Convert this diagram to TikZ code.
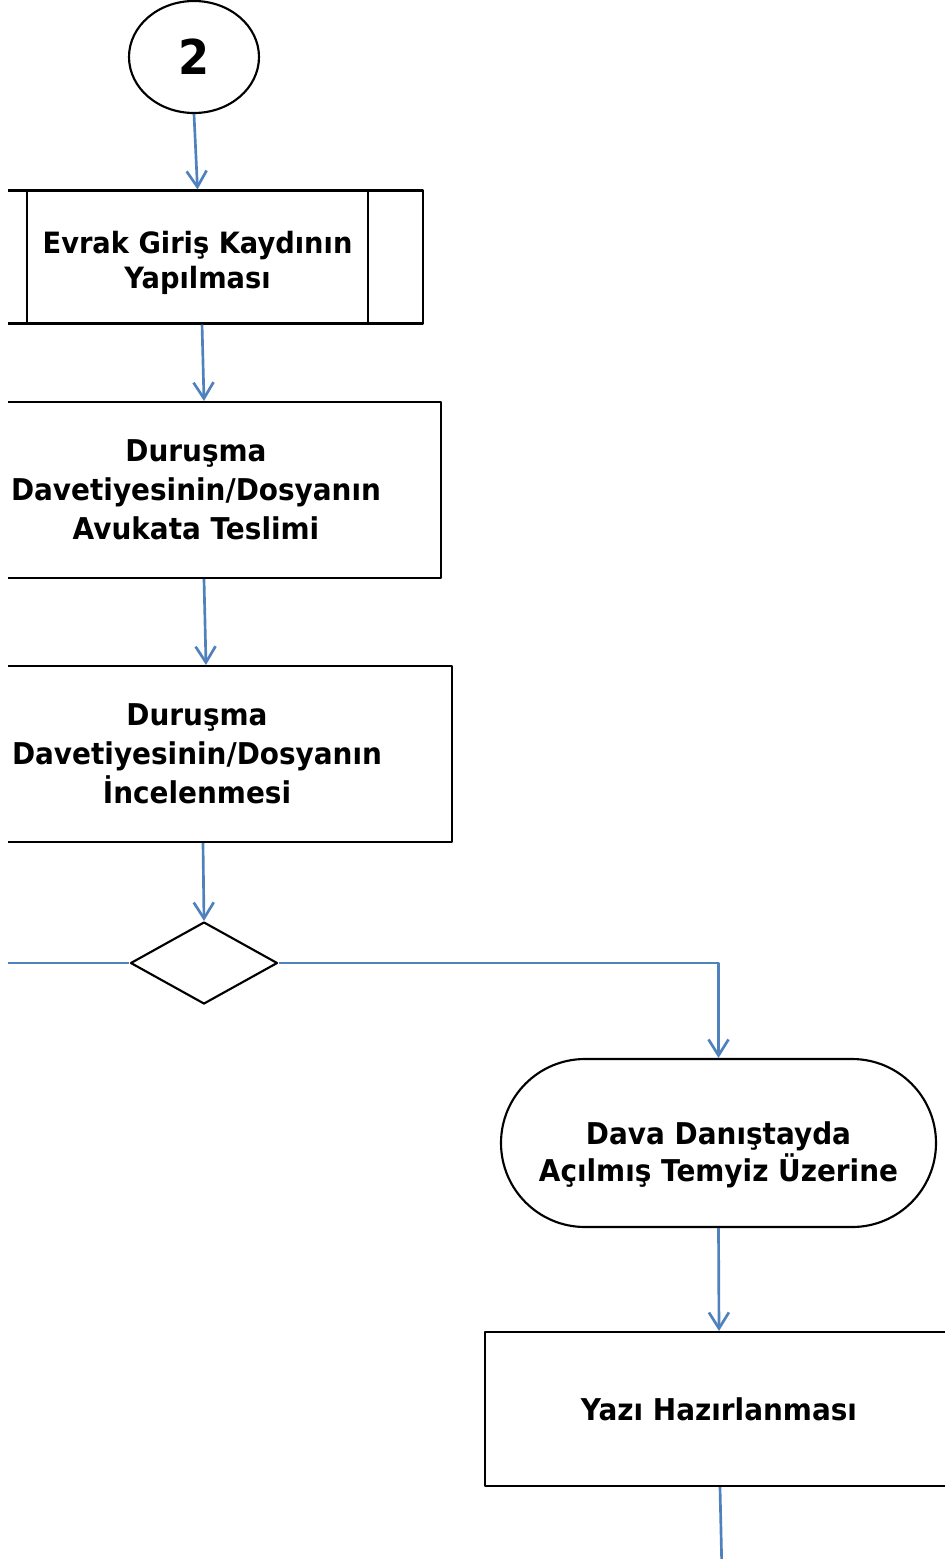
\documentclass[tikz,border=0pt]{standalone}
\usepackage{fontspec}
\setmainfont[FakeStretch=0.93]{DejaVu Sans}
\usetikzlibrary{arrows.meta,shapes.geometric}
\definecolor{flowblue}{HTML}{4F81BD}
\begin{document}
\begin{tikzpicture}[x=0.75pt, y=-0.75pt, line join=round,
    box/.style={draw, line width=1.6pt, align=center, inner sep=0pt,
      font=\bfseries\fontsize{22.5pt}{29.25pt}\selectfont},
    flow/.style={draw=flowblue, line width=2pt,
      -{Straight Barb[length=12pt, width=15pt, line width=2pt]}},
    link/.style={draw=flowblue, line width=2pt}]
  \useasboundingbox (0,0) rectangle (945,1559);
  \begin{scope}
  \clip (8,0) rectangle (945,1559);
  % nodes
  \node[box, ellipse, minimum width=97.5pt, minimum height=84pt,
    font=\bfseries\fontsize{36pt}{40pt}\selectfont] (conn) at (194,57) {2};
  \node[box, minimum width=338.25pt, minimum height=99.75pt,
    font=\bfseries\fontsize{22pt}{26.5pt}\selectfont] (kayit) at (197.5,257)
    {\rule{0pt}{25.5pt}Evrak Giriş Kaydının\\Yapılması};
  \draw[line width=1.6pt] ([xshift=42pt]kayit.north west) -- ([xshift=42pt]kayit.south west);
  \draw[line width=1.6pt] ([xshift=-42pt]kayit.north east) -- ([xshift=-42pt]kayit.south east);
  \node[box, minimum width=367.5pt, minimum height=132pt] (teslim) at (196,490)
    {Duruşma\\Davetiyesinin/Dosyanın\\Avukata Teslimi};
  \node[box, minimum width=382.5pt, minimum height=132pt] (incele) at (197,754)
    {Duruşma\\Davetiyesinin/Dosyanın\\İncelenmesi};
  \node[box, diamond, aspect=1.79, minimum width=110.25pt, minimum height=61.5pt] (karar) at (204,963) {};
  \node[box, rounded corners=63pt, minimum width=326.25pt, minimum height=126pt,
    font=\bfseries\fontsize{22.5pt}{27.75pt}\selectfont] (temyiz) at (718.5,1143)
    {\rule{0pt}{34.5pt}Dava Danıştayda\\Açılmış Temyiz Üzerine};
  \node[box, minimum width=351pt, minimum height=115.5pt] (yazi) at (719,1409)
    {Yazı Hazırlanması};
  \coordinate (solucu) at (-20,963);
  \coordinate (altuc) at (722,1575);
  % connectors
  \draw[flow] (conn.south) -- (kayit.north);
  \draw[flow] ([xshift=3.4pt]kayit.south) -- ([xshift=6pt]teslim.north);
  \draw[flow] ([xshift=6pt]teslim.south) -- ([xshift=6.75pt]incele.north);
  \draw[flow] ([xshift=4.5pt]incele.south) -- (karar.north);
  \draw[link] (karar.west) -- (solucu);
  \draw[flow] (karar.east) -| (temyiz.north);
  \draw[flow] (temyiz.south) -- (yazi.north);
  \draw[link] ([xshift=0.75pt]yazi.south) -- (altuc);
  \end{scope}
\end{tikzpicture}
\end{document}
